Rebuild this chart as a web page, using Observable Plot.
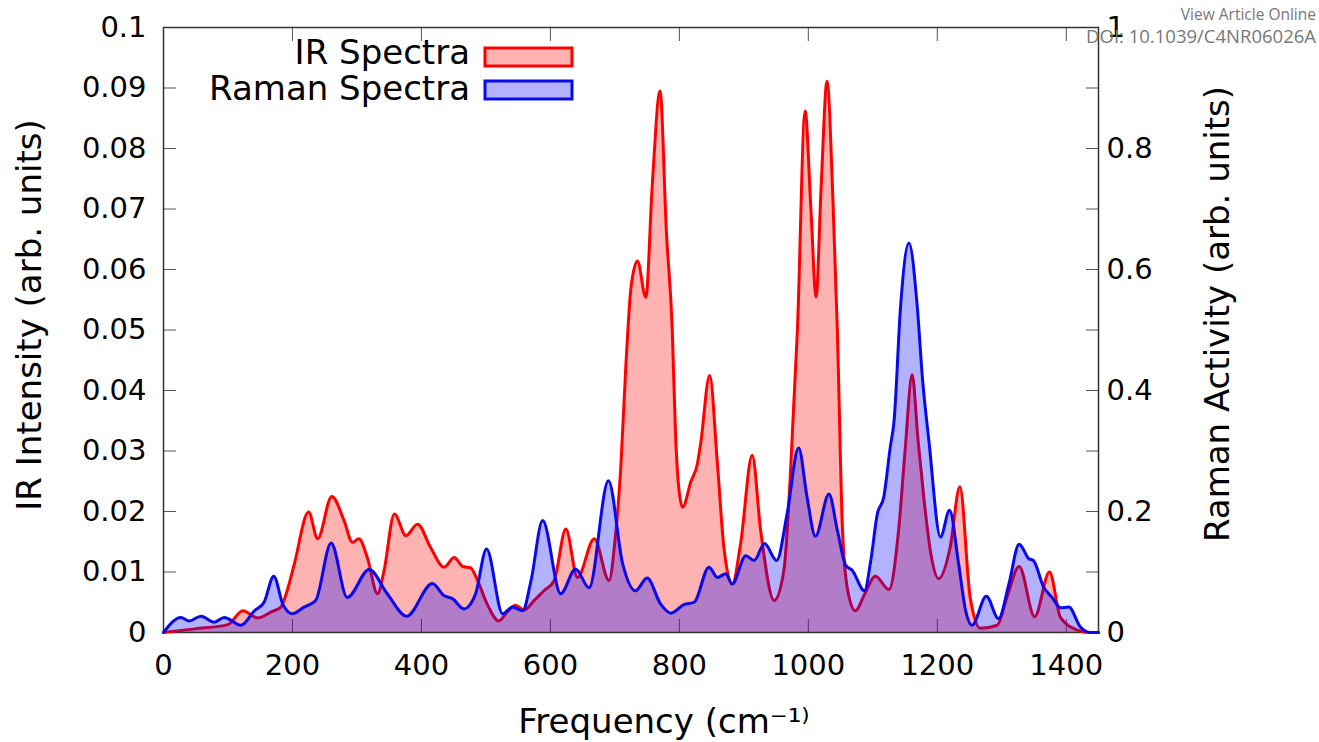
<!DOCTYPE html>
<html>
<head>
<meta charset="utf-8">
<script src="https://cdn.jsdelivr.net/npm/d3@7"></script>
<script src="https://cdn.jsdelivr.net/npm/@observablehq/plot@0.6"></script>
<style>
html, body { margin: 0; padding: 0; background: #fff; }
#wrap { position: relative; width: 1319px; height: 742px; overflow: hidden; font-family: "DejaVu Sans", sans-serif; }
#wrap svg.plot { position: absolute; left: 0; top: 0; }
.hdr { position: absolute; right: 3px; color: #777; font-family: "Open Sans", sans-serif; line-height: 1; white-space: nowrap; }
#hdr1 { top: 7px; font-size: 15.5px; }
#hdr2 { top: 27px; font-size: 18.5px; }
#legend { position: absolute; left: 0; top: 0; }
</style>
</head>
<body>
<div id="wrap">
  <div class="hdr" id="hdr1">View Article Online</div>
  <div class="hdr" id="hdr2">DOI: 10.1039/C4NR06026A</div>
</div>
<script>
// ---- data ----
const irFreq = [0, 48, 100, 123, 146, 167, 182, 192, 203, 225, 239, 261, 280, 293, 303, 316, 332, 342, 358, 376, 394, 414, 435, 451, 464, 476, 487, 502, 520, 533, 546, 559, 575, 590, 606, 624, 642, 668, 691, 700, 709, 717, 725, 735, 748, 758, 770, 780, 789, 794, 799, 805, 818, 828, 833, 847, 859, 869, 882, 895, 913, 926, 947, 962, 978, 983, 995, 1004, 1012, 1020, 1029, 1038, 1045, 1053, 1061, 1073, 1088, 1104, 1125, 1140, 1150, 1161, 1170, 1179, 1190, 1202, 1220, 1235, 1251, 1267, 1293, 1308, 1327, 1351, 1374, 1391, 1417, 1437, 1450];
const irIntensity = [0, 0.0006, 0.0013, 0.0036, 0.0024, 0.0034, 0.0042, 0.0070, 0.0114, 0.0199, 0.0155, 0.0225, 0.0185, 0.0149, 0.0155, 0.0124, 0.0064, 0.0102, 0.0196, 0.0160, 0.0179, 0.0141, 0.0108, 0.0124, 0.0109, 0.0107, 0.0086, 0.0047, 0.0019, 0.0034, 0.0045, 0.0037, 0.0053, 0.0069, 0.0086, 0.0171, 0.0091, 0.0155, 0.0086, 0.0150, 0.0270, 0.0440, 0.0570, 0.0614, 0.0554, 0.0740, 0.0895, 0.0660, 0.0500, 0.0330, 0.0240, 0.0207, 0.0250, 0.0279, 0.0312, 0.0425, 0.0279, 0.0141, 0.0080, 0.0147, 0.0293, 0.0169, 0.0053, 0.0102, 0.0389, 0.0499, 0.0862, 0.0700, 0.0555, 0.0740, 0.0911, 0.0720, 0.0499, 0.0169, 0.0070, 0.0036, 0.0065, 0.0093, 0.0071, 0.0169, 0.0300, 0.0426, 0.0320, 0.0224, 0.0130, 0.0089, 0.0141, 0.0241, 0.0058, 0.0007, 0.0012, 0.0058, 0.0109, 0.0026, 0.0100, 0.0025, 0.0004, 0, 0];

const ramanFreq = [0, 27, 40, 58, 79, 94, 120, 141, 156, 171, 185, 200, 218, 236, 260, 285, 319, 347, 377, 417, 435, 448, 466, 484, 501, 526, 541, 557, 570, 588, 616, 639, 660, 690, 712, 732, 750, 771, 787, 807, 823, 846, 859, 872, 882, 903, 916, 932, 951, 967, 985, 998, 1011, 1032, 1045, 1058, 1068, 1087, 1097, 1107, 1117, 1127, 1133, 1143, 1156, 1169, 1177, 1187, 1205, 1219, 1233, 1244, 1254, 1276, 1295, 1311, 1327, 1342, 1349, 1365, 1378, 1391, 1404, 1422, 1437, 1450];
const ramanActivity = [0, 0.025, 0.019, 0.027, 0.017, 0.025, 0.012, 0.036, 0.050, 0.093, 0.047, 0.031, 0.042, 0.053, 0.148, 0.058, 0.104, 0.064, 0.027, 0.081, 0.061, 0.056, 0.039, 0.064, 0.138, 0.031, 0.042, 0.036, 0.086, 0.185, 0.064, 0.105, 0.074, 0.251, 0.114, 0.069, 0.090, 0.047, 0.032, 0.046, 0.050, 0.108, 0.091, 0.097, 0.080, 0.127, 0.119, 0.147, 0.119, 0.196, 0.305, 0.224, 0.159, 0.229, 0.169, 0.111, 0.103, 0.069, 0.120, 0.196, 0.224, 0.306, 0.350, 0.538, 0.644, 0.538, 0.420, 0.317, 0.158, 0.202, 0.114, 0.036, 0.012, 0.060, 0.023, 0.080, 0.146, 0.122, 0.119, 0.075, 0.058, 0.041, 0.042, 0.009, 0, 0];

const xTicks = [0, 200, 400, 600, 800, 1000, 1200, 1400];
const irTicks = [0, 0.01, 0.02, 0.03, 0.04, 0.05, 0.06, 0.07, 0.08, 0.09, 0.1];
const ramanTicks = [0, 0.1, 0.2, 0.3, 0.4, 0.5, 0.6, 0.7, 0.8, 0.9, 1];
const ramanTickLabels = [0, 0.2, 0.4, 0.6, 0.8, 1];
const seriesNames = ["IR Spectra", "Raman Spectra"];
const xLabel = "Frequency (cm\u207B\u00B9\u207E";
const yLabelLeft = "IR Intensity (arb. units)";
const yLabelRight = "Raman Activity (arb. units)";

// ---- tables ----
const irMax = 0.1, ramanMax = 1;
const ramanToIr = irMax / ramanMax;
const ir = irFreq.map((f, i) => ({f, v: irIntensity[i]}));
const raman = ramanFreq.map((f, i) => ({f, v: ramanActivity[i] * ramanToIr}));
const fmt = d => String(+(+d).toFixed(3));

const RED = "#ff0000", BLUE = "#0000ff", BLUE_LINE = "#0a0ae8";
const tickColor = "#555";
const LW = 3;

const chart = Plot.plot({
  width: 1319,
  height: 742,
  marginLeft: 163,
  marginRight: 221,
  marginTop: 27,
  marginBottom: 110,
  style: {fontFamily: "DejaVu Sans, sans-serif", background: "#fff", overflow: "visible"},
  x: {domain: [0, 1450]},
  y: {domain: [0, irMax]},
  marks: [
    // inward ticks (gnuplot style)
    Plot.axisX({anchor: "bottom", ticks: xTicks, tickSize: 13, dy: -13, text: null, label: null, stroke: tickColor}),
    Plot.axisX({anchor: "top", ticks: xTicks, tickSize: 13, dy: 13, text: null, label: null, stroke: tickColor}),
    Plot.axisY({anchor: "left", ticks: irTicks, tickSize: 13, dx: 13, text: null, label: null, stroke: tickColor}),
    Plot.axisY({anchor: "right", ticks: ramanTicks.map(r => r * ramanToIr), tickSize: 13, dx: -13, text: null, label: null, stroke: tickColor}),
    // tick labels
    Plot.axisX({anchor: "bottom", ticks: xTicks, tickSize: 0, tickPadding: 22, fontSize: 29, label: null, tickFormat: d => String(d)}),
    Plot.axisY({anchor: "left", ticks: irTicks, tickSize: 0, tickPadding: 17, fontSize: 29, label: null, tickFormat: fmt}),
    Plot.axisY({anchor: "right", ticks: ramanTickLabels.map(r => r * ramanToIr), tickSize: 0, tickPadding: 8, fontSize: 29, label: null, tickFormat: d => fmt(d / ramanToIr)}),
    Plot.frame({stroke: "#333", strokeWidth: 1.5}),
    // spectra
    Plot.areaY(ir, {x: "f", y: "v", fill: RED, fillOpacity: 0.3, curve: "monotone-x"}),
    Plot.lineY(ir, {x: "f", y: "v", stroke: RED, strokeWidth: LW, curve: "monotone-x"}),
    Plot.areaY(raman, {x: "f", y: "v", fill: BLUE, fillOpacity: 0.3, curve: "monotone-x"}),
    Plot.lineY(raman, {x: "f", y: "v", stroke: BLUE_LINE, strokeWidth: LW, curve: "monotone-x"}),
    // axis titles
    Plot.text([yLabelLeft], {text: d => d, frameAnchor: "left", textAnchor: "middle", lineAnchor: "middle", rotate: -90, dx: -133, dy: -15, fontSize: 34}),
    Plot.text([yLabelRight], {text: d => d, frameAnchor: "right", textAnchor: "middle", lineAnchor: "middle", rotate: -90, dx: 120, dy: -16, fontSize: 34}),
    Plot.text([xLabel], {text: d => d, frameAnchor: "bottom", textAnchor: "middle", lineAnchor: "middle", dx: 33, dy: 90, fontSize: 34})
  ]
});
chart.classList.add("plot");
const wrap = document.getElementById("wrap");
wrap.insertBefore(chart, wrap.firstChild);

// legend (gnuplot key, top-left inside the frame)
const ns = "http://www.w3.org/2000/svg";
const leg = document.createElementNS(ns, "svg");
leg.setAttribute("id", "legend");
leg.setAttribute("width", 1319);
leg.setAttribute("height", 742);
const legendColors = [RED, BLUE];
const legendLines = [RED, BLUE_LINE];
seriesNames.forEach((name, i) => {
  const t = document.createElementNS(ns, "text");
  t.setAttribute("x", 470);
  t.setAttribute("y", 64 + i * 36);
  t.setAttribute("text-anchor", "end");
  t.setAttribute("font-family", "DejaVu Sans, sans-serif");
  t.setAttribute("font-size", 34);
  t.textContent = name;
  leg.appendChild(t);
  const r = document.createElementNS(ns, "rect");
  r.setAttribute("x", 485);
  r.setAttribute("y", 48 + i * 33);
  r.setAttribute("width", 87);
  r.setAttribute("height", 18);
  r.setAttribute("fill", legendColors[i]);
  r.setAttribute("fill-opacity", 0.3);
  r.setAttribute("stroke", legendLines[i]);
  r.setAttribute("stroke-width", LW);
  leg.appendChild(r);
});
wrap.appendChild(leg);
</script>
</body>
</html>
